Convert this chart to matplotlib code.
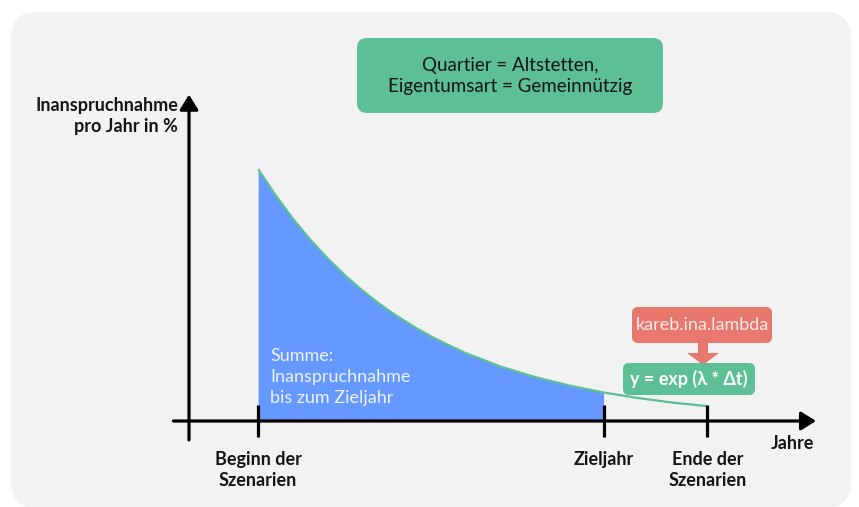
import matplotlib
matplotlib.use("Agg")
import matplotlib.pyplot as plt
from matplotlib.patches import FancyBboxPatch, FancyArrow
from matplotlib.transforms import Affine2D

plt.rcParams["font.family"] = ["Lato", "DejaVu Sans"]

# years on the scenario axis
year_begin = 2
year_target = 12
year_end = 15

# read-off curve: utilisation per year in % (exponential decay)
curve_years = [2, 2.5, 3, 3.5, 4, 4.5, 5, 5.5, 6, 6.5, 7, 7.5, 8,
               9, 10, 11, 12, 13, 14, 15]
curve_pct = [10.0, 8.97, 8.04, 7.21, 6.47, 5.80, 5.20, 4.66, 4.18, 3.75,
             3.36, 3.02, 2.70, 2.17, 1.75, 1.41, 1.13, 0.91, 0.73, 0.59]

tick_labels = ["Beginn der\nSzenarien", "Zieljahr", "Ende der\nSzenarien"]
y_label = "Inanspruchnahme\npro Jahr in %"
x_label = "Jahre"
filter_text = "Quartier = Altstetten,\nEigentumsart = Gemeinnützig"
sum_text = "Summe:\nInanspruchnahme\nbis zum Zieljahr"
param_text = "kareb.ina.lambda"
formula_text = "y = exp (λ * Δt)"

PANEL = "#F2F2F2"
GREEN = "#5DBF95"
BLUE = "#6699FF"
RED = "#E8776E"
INK = "#141414"

W, H = 859, 507
fig = plt.figure(figsize=(W / 100, H / 100), dpi=100, facecolor="white")
ax = fig.add_axes([0, 0, 1, 1])
ax.set_axis_off()
# data frame: 34.55 px per year, 25.2 px per percent, origin at px (189, 421)
ax.set_xlim((0 - 189) / 34.55, (W - 189) / 34.55)
ax.set_ylim((421 - H) / 25.2, 421 / 25.2)

# pixel transform for layout pieces (top-left origin)
pix = Affine2D().scale(1 / 100, -1 / 100).translate(0, H / 100) + fig.dpi_scale_trans

ax.add_patch(FancyBboxPatch((11, 12), 840, 496, boxstyle="round,pad=0,rounding_size=26",
                            fc=PANEL, ec="none", transform=pix, zorder=0))

# area up to target year + curve
fill_x = [x for x in curve_years if x <= year_target]
fill_y = curve_pct[:len(fill_x)]
ax.fill_between(fill_x, 0, fill_y, color=BLUE, lw=0, zorder=2)
ax.plot(curve_years, curve_pct, color=GREEN, lw=1.6, zorder=3, solid_capstyle="butt")

# axes arrows
arrow_kw = dict(arrowstyle="-|>,head_length=0.45,head_width=0.28", color="black",
                lw=2.3, shrinkA=0, shrinkB=0, mutation_scale=20)
ax.annotate("", xy=(18.15, 0), xytext=(-0.45, 0), arrowprops=arrow_kw, zorder=4)
ax.annotate("", xy=(0, 12.95), xytext=(0, -0.75), arrowprops=arrow_kw, zorder=4)
for yr in (year_begin, year_target, year_end):
    ax.plot([yr, yr], [-0.63, 0.63], color="black", lw=2.3, zorder=4,
            solid_capstyle="butt")

for yr, lab in zip((year_begin, year_target, year_end), tick_labels):
    ax.text(yr, -1.2, lab, ha="center", va="top", fontsize=13, fontweight="bold",
            color=INK, linespacing=1.3, zorder=5)
ax.text(16.85, -0.9, x_label, ha="left", va="center", fontsize=13,
        fontweight="bold", color=INK, zorder=5)
ax.text(178, 116, y_label, ha="right", va="center", fontsize=13, fontweight="bold",
        color=INK, linespacing=1.3, transform=pix, zorder=5)

ax.text(270, 377, sum_text, ha="left", va="center", fontsize=13, color="#EEF2FF",
        linespacing=1.35, transform=pix, zorder=5)

# filter box
ax.add_patch(FancyBboxPatch((357, 38), 306, 75, boxstyle="round,pad=0,rounding_size=10",
                            fc=GREEN, ec="none", transform=pix, zorder=5))
ax.text(510, 76, filter_text, ha="center", va="center", fontsize=13.5, color=INK,
        linespacing=1.3, transform=pix, zorder=6)

# parameter callout
ax.add_patch(FancyBboxPatch((632, 307), 140, 36, boxstyle="round,pad=0,rounding_size=6",
                            fc=RED, ec="none", transform=pix, zorder=5))
ax.text(702, 325, param_text, ha="center", va="center", fontsize=13, color="#FBEAE8",
        transform=pix, zorder=6)
ax.add_patch(FancyArrow(703, 342, 0, 23, width=10, head_width=32, head_length=12,
                        length_includes_head=True, fc=RED, ec="none", transform=pix,
                        zorder=5))
ax.add_patch(FancyBboxPatch((623, 363), 132, 32, boxstyle="round,pad=0,rounding_size=6",
                            fc=GREEN, ec="none", transform=pix, zorder=5))
ax.text(689, 379, formula_text, ha="center", va="center", fontsize=13,
        fontweight="bold", color="white", transform=pix, zorder=6)

fig.savefig("out.png", dpi=100, facecolor="white")
